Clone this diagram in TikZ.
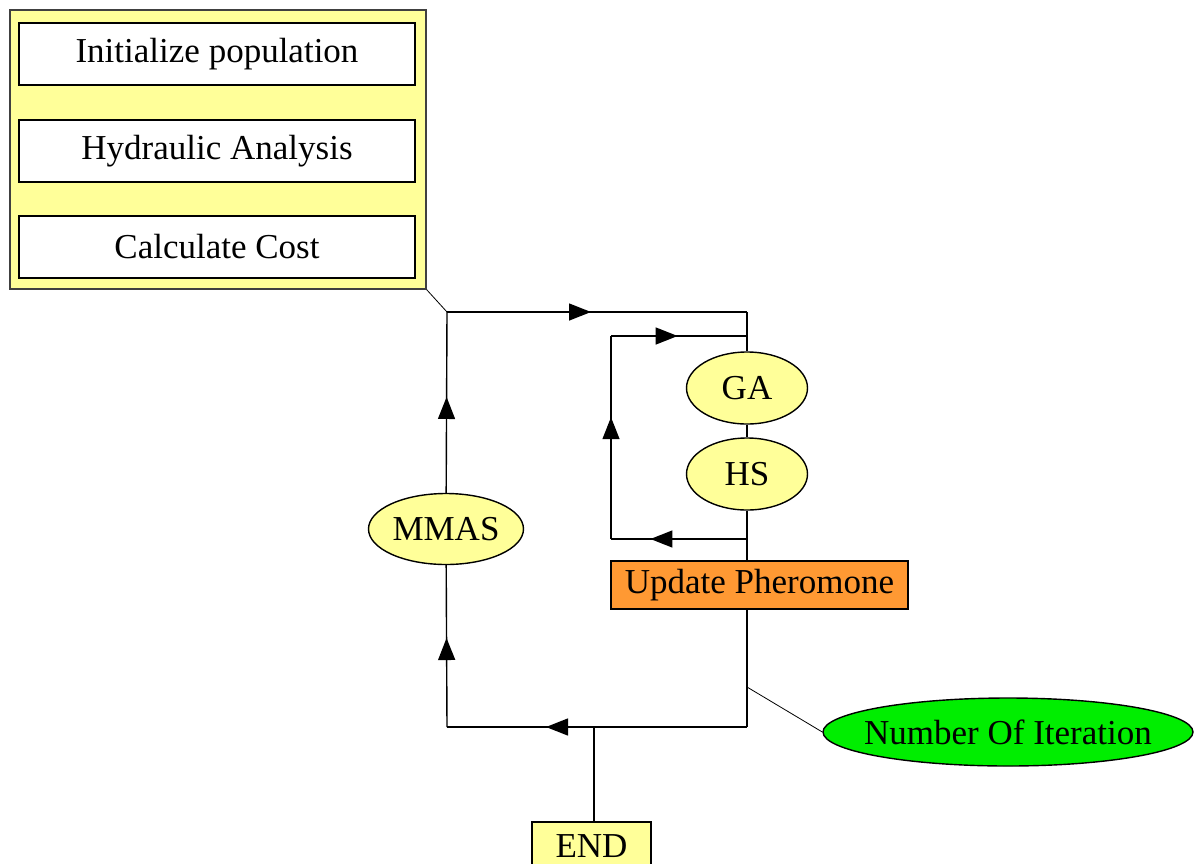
\documentclass[tikz,border=0pt]{standalone}
\usepackage{fontspec}
\setmainfont{Liberation Serif}
\usetikzlibrary{shapes.geometric,arrows.meta,decorations.markings}
\definecolor{paleyellow}{RGB}{255,255,153}
\definecolor{pherorange}{RGB}{255,153,51}
\definecolor{itergreen}{RGB}{0,238,0}
\begin{document}
\begin{tikzpicture}[x=1pt,y=-1pt,line width=1.4pt,
  every node/.style={font=\fontsize{35}{40}\selectfont, inner sep=0pt},
  stepbox/.style={draw, fill=white, minimum width=396pt, minimum height=62pt},
  algo/.style={ellipse, draw, fill=paleyellow, minimum width=121pt, minimum height=72pt},
  midarrow/.style={postaction={decorate}, decoration={markings,
    mark=at position #1 with {\arrow{Triangle[length=22pt,width=17pt]}}}}]
\useasboundingbox (0,0) rectangle (1194,863);
% preparation block
\node[draw=black!75, fill=paleyellow, minimum width=416pt, minimum height=279pt] (prep) at (218,149.5){};
\node[stepbox] (init) at (217,54){Initialize population};
\node[stepbox] (hydr) at (217,151){Hydraulic Analysis};
\node[stepbox] (cost) at (217,247){Calculate Cost};
% algorithms
\node[algo, minimum width=155pt, minimum height=71pt] (mmas) at (446,529){MMAS};
\node[algo] (ga) at (747,388){GA};
\node[algo] (hs) at (747,474){HS};
\node[draw, fill=pherorange, minimum width=297pt, minimum height=48pt] (upd) at (759.5,585){Update Pheromone};
\node[ellipse, draw, fill=itergreen, inner xsep=-25pt, minimum width=370pt, minimum height=68pt] (iter) at (1008,732){Number Of Iteration};
\node[draw, fill=paleyellow, minimum width=119pt, minimum height=48pt] (endb) at (591.5,846){END};
% corners
\coordinate (jtop) at (447,312);
\coordinate (tr) at (747,312);
\coordinate (l1) at (611,336);
\coordinate (r1) at (747,336);
\coordinate (l2) at (611,539);
\coordinate (r2) at (747,539);
\coordinate (bl) at (447,727);
\coordinate (br) at (747,727);
\coordinate (bend) at (594,727);
\coordinate (niter) at (747,687);
% connectors
\draw[line width=0.8pt](prep.south east) -- (jtop);
\draw[midarrow=0.48](jtop) -- (tr);
\draw[](tr) -- (ga);
\draw[midarrow=0.49](l1) -- (r1);
\draw[midarrow=0.60](l2) -- (l1);
\draw[midarrow=0.71](r2) -- (l2);
\draw[](ga) -- (hs);
\draw[](hs) -- (hs |- upd.north);
\draw[](hs |- upd.south) -- (br);
\draw[midarrow=0.67](br) -- (bl);
\draw[midarrow=0.55](bl) -- (mmas);
\draw[midarrow=0.53](mmas) -- (jtop);
\draw[](bend) -- (bend |- endb.north);
\draw[line width=0.8pt](niter) -- (iter.west);
\end{tikzpicture}
\end{document}
